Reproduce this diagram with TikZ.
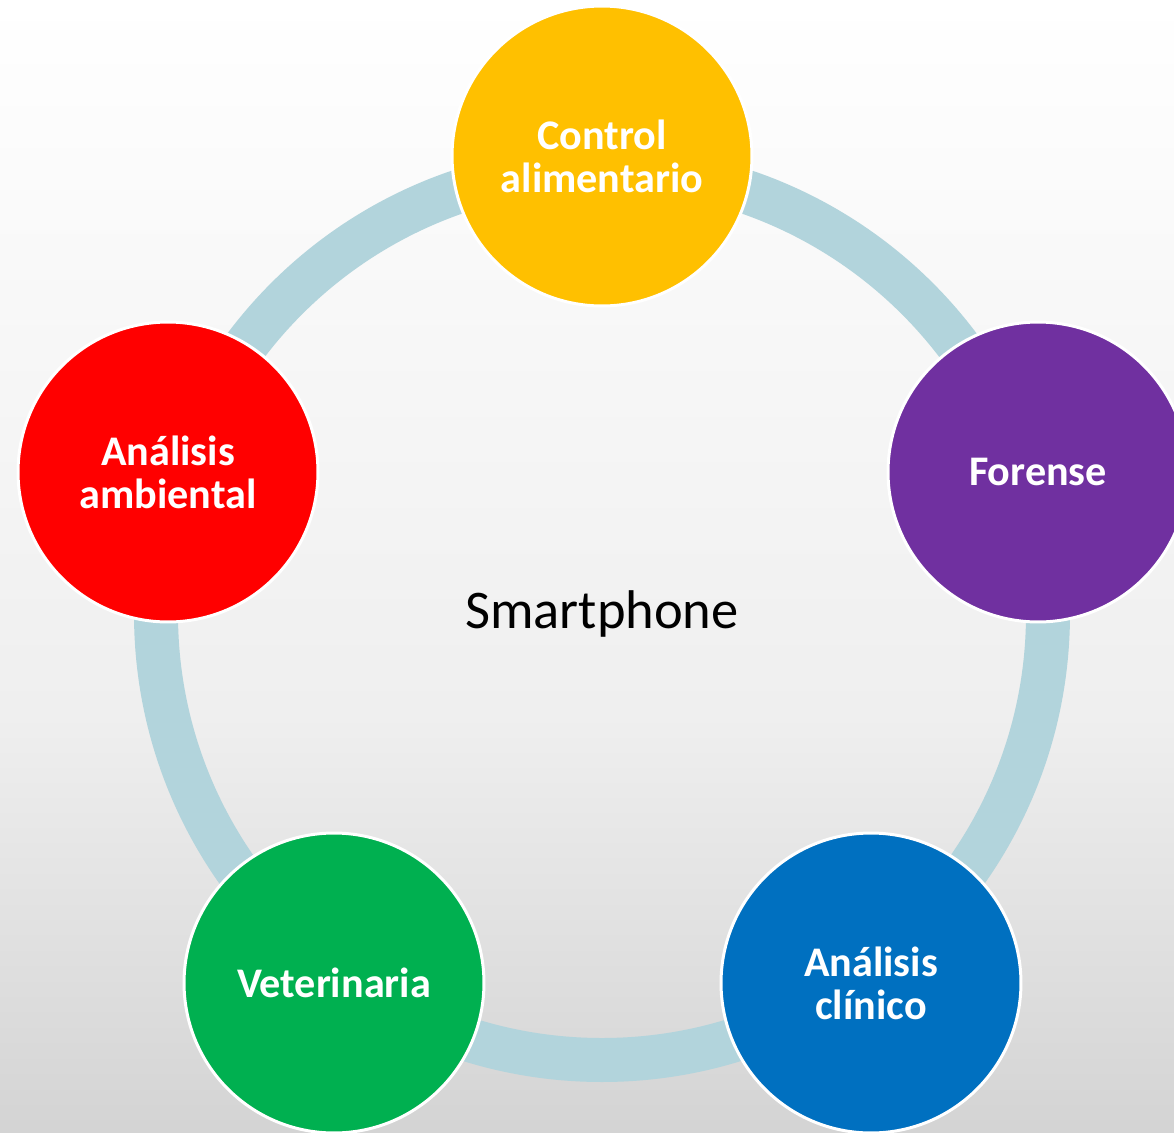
\documentclass[tikz,border=0pt]{standalone}
\usepackage{fontspec}
\setmainfont{Carlito}
\usepackage{xcolor}
\usetikzlibrary{positioning}

\definecolor{cyellow}{HTML}{FFC000}
\definecolor{cpurple}{HTML}{7030A0}
\definecolor{cred}{HTML}{FF0000}
\definecolor{cgreen}{HTML}{00B050}
\definecolor{cblue}{HTML}{0070C0}
\definecolor{cring}{RGB}{178,212,220}

% the page covers 25bp..75bp of the shading
\pgfdeclareverticalshading{bgfade}{100bp}{%
  rgb(0bp)=(0.83,0.83,0.83);
  rgb(25bp)=(0.83,0.83,0.83);
  rgb(36.8bp)=(0.898,0.898,0.898);
  rgb(43.4bp)=(0.937,0.937,0.937);
  rgb(65.5bp)=(0.98,0.98,0.98);
  rgb(75bp)=(1,1,1);
  rgb(100bp)=(1,1,1)}

\begin{document}
\begin{tikzpicture}[x=0.02cm,y=-0.02cm]
    \tikzstyle{every node}=[font=\fontsize{24}{24.5}\selectfont\bfseries,text=white,align=center]
    \tikzstyle{area}=[circle,draw=white,line width=1.7pt,minimum size=6cm,inner sep=0pt]
    \tikzstyle{ring}=[draw=cring,line width=0.88cm]

   \useasboundingbox (0,0) rectangle (1174,1133);
   \clip (0,0) rectangle (1174,1133);
   \shade[shading=bgfade] (0,0) rectangle (1174,1133);

   \coordinate (hub) at (602,614);
   \draw[ring] (hub) circle (446);

   \node[font=\fontsize{31}{33}\selectfont,text=black,anchor=base] (smart) at (602,628) {Smartphone};

   \node[area,fill=cyellow] (control) at (602,156) {Control\\alimentario};
   \node[area,fill=cpurple] (forense) at (1038,472) {Forense};
   \node[area,fill=cred] (ambiental) at (168,472) {Análisis\\ambiental};
   \node[area,fill=cgreen] (veterinaria) at (334,983) {Veterinaria};
   \node[area,fill=cblue] (clinico) at (871,983) {Análisis\\clínico};

\end{tikzpicture}
\end{document}
